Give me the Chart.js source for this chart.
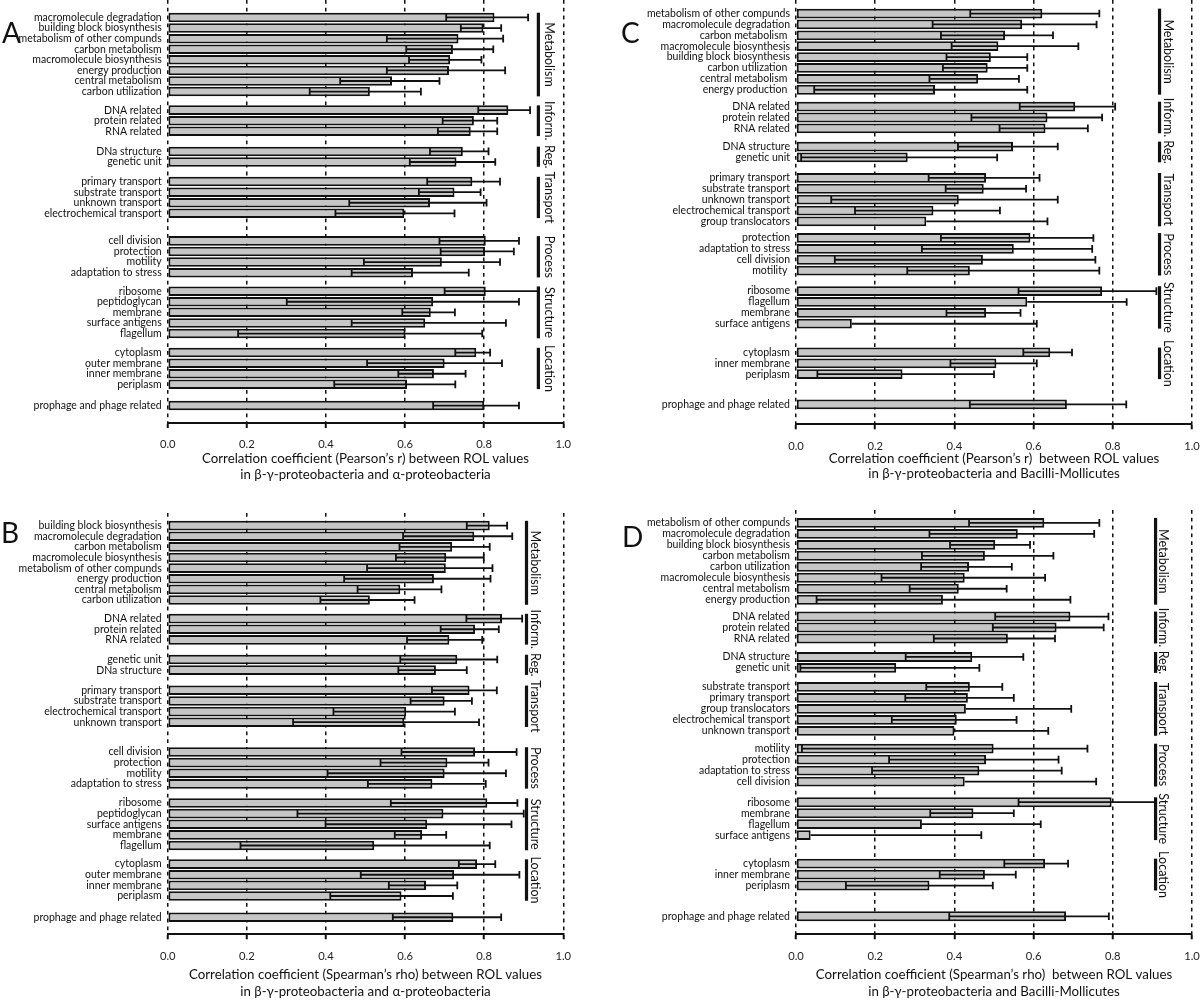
<!DOCTYPE html>
<html>
<head>
<meta charset="utf-8">
<title>ROL correlation by functional category</title>
<script src="https://cdn.jsdelivr.net/npm/chart.js@4.4.0/dist/chart.umd.min.js"></script>
<style>
  body { margin: 0; background: #fff; }
  #fig { position: relative; width: 1200px; height: 1001px; overflow: hidden; }
  #fig canvas { position: absolute; }
  .tag { position: absolute; font: 28px Lato, sans-serif; line-height: 1; color: #111; }
</style>
</head>
<body>
<div id="fig">
  <canvas id="chartA" width="600" height="500" style="left:0;top:0"></canvas>
  <canvas id="chartB" width="600" height="501" style="left:0;top:500px"></canvas>
  <canvas id="chartC" width="600" height="500" style="left:600px;top:0"></canvas>
  <canvas id="chartD" width="600" height="501" style="left:600px;top:500px"></canvas>
  <div class="tag" style="left:2px;top:18px">A</div>
  <div class="tag" style="left:1px;top:518px">B</div>
  <div class="tag" style="left:621px;top:18px">C</div>
  <div class="tag" style="left:622px;top:522px">D</div>
</div>
<script>
// group names, same order in every panel (last group = prophage, no label)
const groupNames = ['Metabolism', 'Inform.', 'Reg.', 'Transport', 'Process', 'Structure', 'Location', ''];

// ---- A: Pearson, beta-gamma vs alpha
const aLabels = ['macromolecule degradation', 'building block biosynthesis', 'metabolism of other compunds', 'carbon metabolism',
  'macromolecule biosynthesis', 'energy production', 'central metabolism', 'carbon utilization',
  'DNA related', 'protein related', 'RNA related',
  'DNa structure', 'genetic unit',
  'primary transport', 'substrate transport', 'unknown transport', 'electrochemical transport',
  'cell division', 'protection', 'motility', 'adaptation to stress',
  'ribosome', 'peptidoglycan', 'membrane', 'surface antigens', 'flagellum',
  'cytoplasm', 'outer membrane', 'inner membrane', 'periplasm',
  'prophage and phage related'];
const aGroupSizes = [8, 3, 2, 4, 4, 5, 4, 1];
const aValues = [0.826, 0.798, 0.735, 0.721, 0.714, 0.711, 0.567, 0.511,
  0.861, 0.774, 0.766, 0.746, 0.730, 0.770, 0.725, 0.663, 0.598,
  0.804, 0.802, 0.693, 0.620, 0.804, 0.671, 0.665, 0.651, 0.601,
  0.780, 0.700, 0.673, 0.605, 0.800];
const aLow = [0.704, 0.741, 0.554, 0.603, 0.610, 0.554, 0.436, 0.359,
  0.785, 0.695, 0.683, 0.663, 0.612, 0.656, 0.635, 0.459, 0.424,
  0.687, 0.690, 0.496, 0.465, 0.700, 0.301, 0.593, 0.465, 0.178,
  0.727, 0.504, 0.583, 0.421, 0.671];
const aHigh = [0.911, 0.843, 0.848, 0.823, 0.793, 0.853, 0.687, 0.640,
  0.916, 0.833, 0.833, 0.811, 0.828, 0.840, 0.791, 0.806, 0.725,
  0.888, 0.875, 0.840, 0.761, 0.937, 0.888, 0.726, 0.855, 0.795,
  0.815, 0.845, 0.753, 0.727, 0.888];

// ---- B: Spearman, beta-gamma vs alpha
const bLabels = ['building block biosynthesis', 'macromolecule degradation', 'carbon metabolism', 'macromolecule biosynthesis',
  'metabolism of other compunds', 'energy production', 'central metabolism', 'carbon utilization',
  'DNA related', 'protein related', 'RNA related',
  'genetic unit', 'DNa structure',
  'primary transport', 'substrate transport', 'electrochemical transport', 'unknown transport',
  'cell division', 'protection', 'motility', 'adaptation to stress',
  'ribosome', 'peptidoglycan', 'surface antigens', 'membrane', 'flagellum',
  'cytoplasm', 'outer membrane', 'inner membrane', 'periplasm',
  'prophage and phage related'];
const bGroupSizes = [8, 3, 2, 4, 4, 5, 4, 1];
const bValues = [0.814, 0.775, 0.719, 0.704, 0.703, 0.673, 0.588, 0.511,
  0.845, 0.777, 0.712, 0.732, 0.678, 0.763, 0.700, 0.603, 0.598,
  0.777, 0.707, 0.700, 0.669, 0.808, 0.697, 0.656, 0.643, 0.522,
  0.782, 0.724, 0.653, 0.591, 0.722];
const bLow = [0.756, 0.595, 0.586, 0.577, 0.504, 0.446, 0.480, 0.386,
  0.755, 0.690, 0.605, 0.588, 0.583, 0.668, 0.614, 0.419, 0.317,
  0.591, 0.538, 0.404, 0.506, 0.564, 0.328, 0.399, 0.574, 0.184,
  0.736, 0.488, 0.559, 0.411, 0.569];
const bHigh = [0.858, 0.871, 0.814, 0.799, 0.821, 0.816, 0.692, 0.624,
  0.896, 0.837, 0.795, 0.833, 0.756, 0.832, 0.769, 0.726, 0.787,
  0.882, 0.811, 0.855, 0.804, 0.884, 0.900, 0.869, 0.704, 0.814,
  0.828, 0.889, 0.732, 0.721, 0.843];

// ---- C: Pearson, beta-gamma vs Bacilli-Mollicutes
const cLabels = ['metabolism of other compunds', 'macromolecule degradation', 'carbon metabolism ', 'macromolecule biosynthesis',
  'building block biosynthesis', 'carbon utilization ', 'central metabolism ', 'energy production ',
  'DNA related', 'protein related', 'RNA related',
  'DNA structure', 'genetic unit',
  'primary transport', 'substrate transport', 'unknown transport', 'electrochemical transport', 'group translocators',
  'protection', 'adaptation to stress', 'cell division', 'motility ',
  'ribosome', 'flagellum', 'membrane', 'surface antigens',
  'cytoplasm', 'inner membrane', 'periplasm',
  'prophage and phage related'];
const cGroupSizes = [8, 3, 2, 5, 4, 4, 3, 1];
const cValues = [0.622, 0.571, 0.528, 0.511, 0.492, 0.484, 0.460, 0.351,
  0.705, 0.635, 0.630, 0.548, 0.282, 0.480, 0.474, 0.411, 0.347, 0.329,
  0.592, 0.550, 0.472, 0.439, 0.773, 0.584, 0.480, 0.141,
  0.642, 0.506, 0.269, 0.684];
const cLow = [0.440, 0.345, 0.366, 0.393, 0.380, 0.371, 0.337, 0.046,
  0.565, 0.443, 0.514, 0.409, 0.013, 0.335, 0.378, 0.089, 0.149, null,
  0.366, 0.318, 0.098, 0.281, 0.562, null, 0.380, null,
  0.574, 0.390, 0.054, 0.439];
const cHigh = [0.766, 0.759, 0.649, 0.713, 0.584, 0.584, 0.563, 0.584,
  0.806, 0.773, 0.737, 0.661, 0.508, 0.615, 0.581, 0.661, 0.515, 0.635,
  0.751, 0.748, 0.756, 0.766, 0.910, 0.835, 0.567, 0.608,
  0.697, 0.608, 0.500, 0.834];

// ---- D: Spearman, beta-gamma vs Bacilli-Mollicutes
const dLabels = ['metabolism of other compunds', 'macromolecule degradation', 'building block biosynthesis', 'carbon metabolism',
  'carbon utilization', 'macromolecule biosynthesis', 'central metabolism', 'energy production',
  'DNA related', 'protein related', 'RNA related',
  'DNA structure', 'genetic unit',
  'substrate transport', 'primary transport', 'group translocators', 'electrochemical transport', 'unknown transport',
  'motility', 'protection', 'adaptation to stress', 'cell division',
  'ribosome', 'membrane', 'flagellum', 'surface antigens',
  'cytoplasm', 'inner membrane', 'periplasm',
  'prophage and phage related'];
const dGroupSizes = [8, 3, 2, 5, 4, 4, 3, 1];
const dValues = [0.627, 0.560, 0.503, 0.477, 0.437, 0.426, 0.411, 0.371,
  0.693, 0.658, 0.535, 0.445, 0.253, 0.439, 0.434, 0.429, 0.406, 0.400,
  0.499, 0.480, 0.463, 0.426, 0.797, 0.448, 0.318, 0.037,
  0.629, 0.477, 0.337, 0.682];
const dLow = [0.437, 0.337, 0.389, 0.318, 0.316, 0.216, 0.287, 0.052,
  0.503, 0.497, 0.348, 0.277, 0.011, 0.329, 0.276, null, 0.242, null,
  0.015, 0.235, 0.192, null, 0.562, 0.339, null, null,
  0.526, 0.363, 0.126, 0.387];
const dHigh = [0.766, 0.753, 0.591, 0.650, 0.545, 0.629, 0.532, 0.693,
  0.789, 0.777, 0.654, 0.574, 0.463, 0.521, 0.550, 0.695, 0.557, 0.637,
  0.736, 0.663, 0.671, 0.758, 0.908, 0.550, 0.618, 0.468,
  0.687, 0.555, 0.497, 0.790];

const xTickValues = [0, 0.2, 0.4, 0.6, 0.8, 1.0];
const pearsonTitle = 'Correlation coefficient (Pearson\u2019s r) between ROL values';
const spearmanTitle = 'Correlation coefficient (Spearman\u2019s rho) between ROL values';
const alphaLine = 'in \u03b2-\u03b3-proteobacteria and \u03b1-proteobacteria';
const bacilliLine = 'in \u03b2-\u03b3-proteobacteria and Bacilli-Mollicutes';

// layout of each panel (pixels on the page)
const panels = [
  { id: 'chartA', labels: aLabels, sizes: aGroupSizes, values: aValues, low: aLow, high: aHigh,
    left: 0, top: 0, width: 600, height: 500, plotLeft: 167.7, plotRight: 563.3,
    areaTop: 0, firstY: 11, lastY: 412, axisY: 423, gaps: [1.75, 1.9, 1.85, 2.6, 1.75, 1.8, 2.0],
    bracket: 0.937, groupText: 0.963, title: [pearsonTitle, alphaLine], titleY: 36, titleLH: 15.5 },
  { id: 'chartB', labels: bLabels, sizes: bGroupSizes, values: bValues, low: bLow, high: bHigh,
    left: 0, top: 500, width: 600, height: 501, plotLeft: 167.7, plotRight: 563.3,
    areaTop: 513, firstY: 519, lastY: 923.7, axisY: 934.3, gaps: [1.75, 1.85, 1.9, 2.8, 1.8, 1.75, 2.0],
    bracket: 0.907, groupText: 0.928, title: [spearmanTitle, alphaLine], titleY: 40.7, titleLH: 16.7 },
  { id: 'chartC', labels: cLabels, sizes: cGroupSizes, values: cValues, low: cLow, high: cHigh,
    left: 600, top: 0, width: 600, height: 500, plotLeft: 796, plotRight: 1192,
    areaTop: 0, firstY: 6.7, lastY: 411, axisY: 424.3, gaps: [1.55, 1.67, 1.88, 1.52, 1.88, 2.64, 2.77],
    bracket: 0.918, groupText: 0.94, title: [pearsonTitle.replace(') ', ')  '), bacilliLine], titleY: 34, titleLH: 15.2 },
  { id: 'chartD', labels: dLabels, sizes: dGroupSizes, values: dValues, low: dLow, high: dHigh,
    left: 600, top: 500, width: 600, height: 501, plotLeft: 796, plotRight: 1192,
    areaTop: 510, firstY: 516, lastY: 923, axisY: 934.3, gaps: [1.53, 1.68, 1.73, 1.62, 1.88, 2.59, 2.8],
    bracket: 0.908, groupText: 0.928, title: [spearmanTitle.replace(') ', ')  '), bacilliLine], titleY: 40.7, titleLH: 16.7 }
];

const FONT = 'Lato, sans-serif';
const INK = '#111';

// row positions on the y scale: 1 per row, a wider step between groups
function rowPositions(sizes, gaps) {
  const pos = [];
  let p = 0;
  sizes.forEach((n, g) => {
    for (let i = 0; i < n; i++) { pos.push(p); p += 1; }
    p += (gaps[g] || 0) - 1;
  });
  return pos;
}

function makeChart(P) {
  const pos = rowPositions(P.sizes, P.gaps);
  const last = pos[pos.length - 1];
  const unit = (P.lastY - P.firstY) / last;
  const yMin = -(P.firstY - P.areaTop) / unit;
  const yMax = last + (P.axisY - P.lastY) / unit;
  const xHeight = P.top + P.height - P.axisY;
  const titleSize = 13.3;

  const errorBars = {
    id: 'errorBars',
    afterDatasetsDraw(chart) {
      const { ctx, scales: { x } } = chart;
      const bars = chart.getDatasetMeta(0).data;
      ctx.save();
      ctx.strokeStyle = INK;
      ctx.lineWidth = 1.8;
      bars.forEach((bar, i) => {
        const y = bar.y;
        const hi = x.getPixelForValue(P.high[i]);
        const lo = P.low[i] == null ? bar.x : x.getPixelForValue(P.low[i]);
        ctx.beginPath();
        ctx.moveTo(lo, y); ctx.lineTo(hi, y);
        ctx.moveTo(hi, y - 3.8); ctx.lineTo(hi, y + 3.8);
        if (P.low[i] != null) { ctx.moveTo(lo, y - 3.8); ctx.lineTo(lo, y + 3.8); }
        ctx.stroke();
      });
      ctx.restore();
    }
  };

  const groupBrackets = {
    id: 'groupBrackets',
    afterDraw(chart) {
      const { ctx, scales: { x, y } } = chart;
      let start = 0;
      ctx.save();
      ctx.fillStyle = '#111';
      ctx.font = '12.5px ' + FONT;
      P.sizes.forEach((n, g) => {
        const name = groupNames[g];
        if (name) {
          const y1 = y.getPixelForValue(pos[start] - 0.45);
          const y2 = y.getPixelForValue(pos[start + n - 1] + 0.45);
          const bx = x.getPixelForValue(P.bracket);
          ctx.fillRect(bx - 1.6, y1, 3.2, y2 - y1);
          ctx.save();
          ctx.translate(x.getPixelForValue(P.groupText), (y1 + y2) / 2);
          ctx.rotate(Math.PI / 2);
          ctx.textAlign = 'center';
          ctx.textBaseline = 'middle';
          ctx.fillText(name, 0, 0);
          ctx.restore();
        }
        start += n;
      });
      ctx.restore();
    }
  };

  return new Chart(document.getElementById(P.id), {
    type: 'bar',
    data: {
      datasets: [{
        data: P.values.map((v, i) => ({ x: v, y: pos[i] })),
        backgroundColor: '#c6c6c6',
        borderColor: INK,
        borderWidth: 2,
        borderSkipped: false,
        barPercentage: 0.9,
        categoryPercentage: 1
      }]
    },
    options: {
      responsive: false,
      animation: false,
      indexAxis: 'y',
      layout: { padding: { top: P.areaTop - P.top, left: 0, right: P.left + P.width - P.plotRight, bottom: 0 } },
      plugins: { legend: { display: false }, tooltip: { enabled: false } },
      scales: {
        x: {
          type: 'linear',
          position: 'bottom',
          min: 0,
          max: 1,
          z: 1,
          afterBuildTicks: axis => { axis.ticks = xTickValues.map(v => ({ value: v })); },
          afterFit: axis => { axis.height = xHeight; axis.paddingLeft = 0; axis.paddingRight = 0; },
          ticks: {
            callback: v => Number(v).toFixed(1),
            font: { family: FONT, size: 11.2 },
            color: '#222',
            padding: 10,
            maxRotation: 0
          },
          grid: { color: INK, lineWidth: 1.5, drawTicks: true, tickLength: 5, tickWidth: 2, tickColor: INK },
          border: { display: true, color: INK, width: 2, dash: [3.8, 4] },
          title: {
            display: true,
            text: P.title,
            color: '#111',
            font: { family: FONT, size: titleSize, lineHeight: P.titleLH / titleSize },
            padding: { top: 0, bottom: xHeight - P.titleLH * 1.5 - P.titleY }
          }
        },
        y: {
          type: 'linear',
          reverse: true,
          min: yMin,
          max: yMax,
          bounds: 'data',
          afterBuildTicks: axis => { axis.ticks = pos.map(v => ({ value: v })); },
          afterFit: axis => { axis.width = P.plotLeft - P.left; axis.paddingTop = 0; axis.paddingBottom = 0; },
          ticks: {
            autoSkip: false,
            callback: (v, i) => P.labels[i],
            font: { family: FONT, size: 10.5 },
            color: '#111',
            padding: 6
          },
          grid: { display: false, drawTicks: false },
          border: { display: false }
        }
      }
    },
    plugins: [errorBars, groupBrackets]
  });
}

panels.forEach(makeChart);
</script>
</body>
</html>
